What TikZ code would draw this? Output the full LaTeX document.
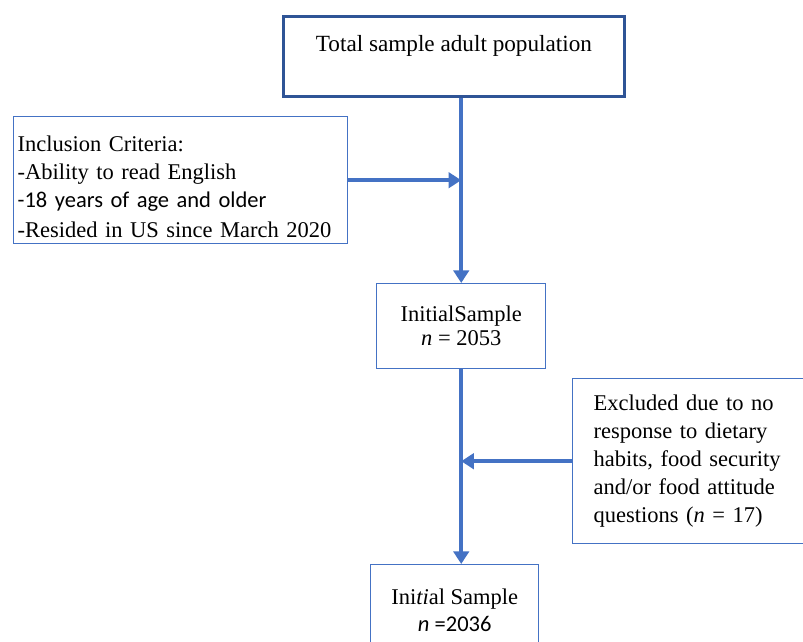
\documentclass[tikz,border=0pt]{standalone}
\usepackage{fontspec}
\setmainfont{Liberation Serif}
\setsansfont{Carlito}
\usepackage{tikz}
\usetikzlibrary{arrows.meta, positioning, calc}
\usepackage{xcolor}
\definecolor{flowblue}{HTML}{4472C4}
\definecolor{flowdark}{HTML}{2F5496}

\begin{document}
\begin{tikzpicture}[
    x=0.025cm, y=-0.025cm,
    stage/.style={draw=flowblue, line width=1pt, anchor=north west,
                  inner sep=0pt, align=center,
                  font=\fontsize{16}{17}\selectfont},
    note/.style={draw=flowblue, line width=1pt, anchor=north west,
                 inner ysep=0pt, align=left,
                 font=\fontsize{16}{20}\selectfont},
    flow/.style={flowblue, line width=3pt,
                 -{Triangle[length=9pt, width=11pt]}}
  ]
    \useasboundingbox (0,0) rectangle (803,642);
    \clip (0,0) rectangle (803,642);

    \node[stage, draw=flowdark, line width=2pt,
          minimum width=8.525cm, minimum height=2cm,
          font=\fontsize{16.5}{17}\selectfont,
          text height=11pt, text depth=18pt] (total) at (282,15)
      {Total sample adult population};

    \node[note, minimum height=3.175cm, text width=8.15cm,
          inner xsep=0.1cm] (incl) at (13,116)
      {\rule{0pt}{20pt}Inclusion Criteria:\\
       -Ability to read English\\
       {\sffamily -18 years of age and older}\\[1pt]
       -Resided in US since March 2020};

    \node[stage, minimum width=4.225cm, minimum height=2.125cm] (init1) at (376,283)
      {InitialSample\\ \textit{n} = 2053};

    \node[note, minimum height=4.125cm, text width=5cm,
          inner xsep=0.525cm] (excl) at (572,378)
      {Excluded due to no\\
       response to dietary\\
       habits, food security\\
       and/or food attitude\\
       questions (\textit{n} = 17)};

    \node[stage, minimum width=4.2cm, minimum height=2.275cm,
          font=\fontsize{16}{19}\selectfont] (final) at (370,564)
      {Ini\textit{ti}al Sample\\ {\sffamily\textit{n} =2036}};

    \coordinate (j1) at (incl.east -| init1.north);
    \coordinate (j2) at (excl.west -| init1.north);

    \draw[flow, -] (init1.north |- total.south) -- (j1);
    \draw[flow] (j1) -- (init1.north);
    \draw[flow] (incl.east) -- (j1);
    \draw[flow, -] (init1.south) -- (j2);
    \draw[flow] (j2) -- (init1.south |- final.north);
    \draw[flow] (excl.west) -- (j2);
  \end{tikzpicture}
\end{document}
